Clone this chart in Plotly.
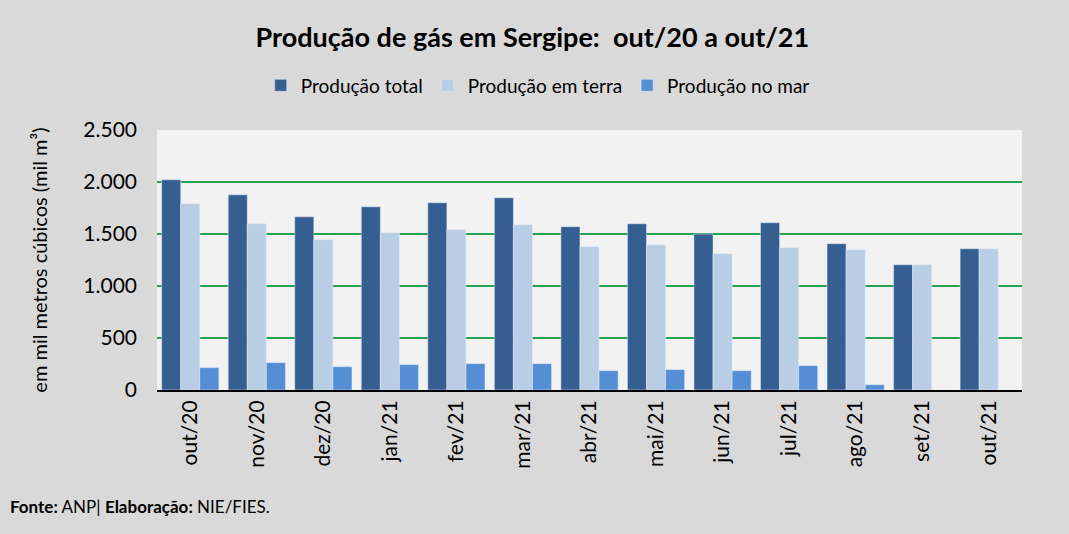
import plotly.graph_objects as go

# Dados (mil m³)
meses = ['out/20', 'nov/20', 'dez/20', 'jan/21', 'fev/21', 'mar/21', 'abr/21',
         'mai/21', 'jun/21', 'jul/21', 'ago/21', 'set/21', 'out/21']
producao_total = [2022, 1877, 1666, 1762, 1801, 1849, 1571, 1599, 1500, 1609, 1407, 1205, 1359]
producao_terra = [1791, 1599, 1445, 1513, 1542, 1590, 1378, 1397, 1311, 1369, 1349, 1205, 1359]
producao_mar = [215, 263, 224, 244, 253, 253, 186, 196, 186, 234, 51, 0, 0]

fonte = 'Lato'

fig = go.Figure()
fig.add_trace(go.Bar(x=meses, y=producao_total, name='Produção total', marker_color='#365f91'))
fig.add_trace(go.Bar(x=meses, y=producao_terra, name='Produção em terra', marker_color='#b9cde5'))
fig.add_trace(go.Bar(x=meses, y=producao_mar, name='Produção no mar', marker_color='#558ed5'))

fig.update_layout(
    width=1069, height=534,
    paper_bgcolor='#d9d9d9', plot_bgcolor='#f2f2f2',
    font=dict(family=fonte, color='#000000'),
    separators=',.',
    barmode='group', bargap=0.14, bargroupgap=0,
    margin=dict(l=157, r=47, t=129, b=144),
    title=dict(text='<b>Produção de gás em Sergipe:  out/20 a out/21</b>',
               x=0.498, xref='container', xanchor='center', y=0.93, yanchor='middle',
               font=dict(size=27)),
    legend=dict(orientation='h', x=0.503, xref='container', xanchor='center',
                y=0.84, yref='container', yanchor='middle', font=dict(size=19),
                itemwidth=30, traceorder='normal'),
    showlegend=True,
)
fig.update_xaxes(tickangle=-90, tickfont=dict(size=21), showline=True,
                 linecolor='#000000', linewidth=2, ticks='', showgrid=False)
fig.update_yaxes(range=[0, 2500], dtick=500, tickformat=',d', tickfont=dict(size=21),
                 showgrid=True, gridcolor='#26a152', gridwidth=2, zeroline=False,
                 title=dict(text='em mil metros cúbicos (mil m³)', font=dict(size=20), standoff=30),
                 ticks='', ticklabelstandoff=19)

fig.add_annotation(text='<b>Fonte:</b> ANP| <b>Elaboração:</b> NIE/FIES.',
                   xref='paper', yref='paper', x=-0.172, y=-0.45, xanchor='left', yanchor='middle',
                   showarrow=False, font=dict(size=17))

fig.write_html('out.html', config={'displayModeBar': False},
               post_script="document.body.style.margin='0';")
